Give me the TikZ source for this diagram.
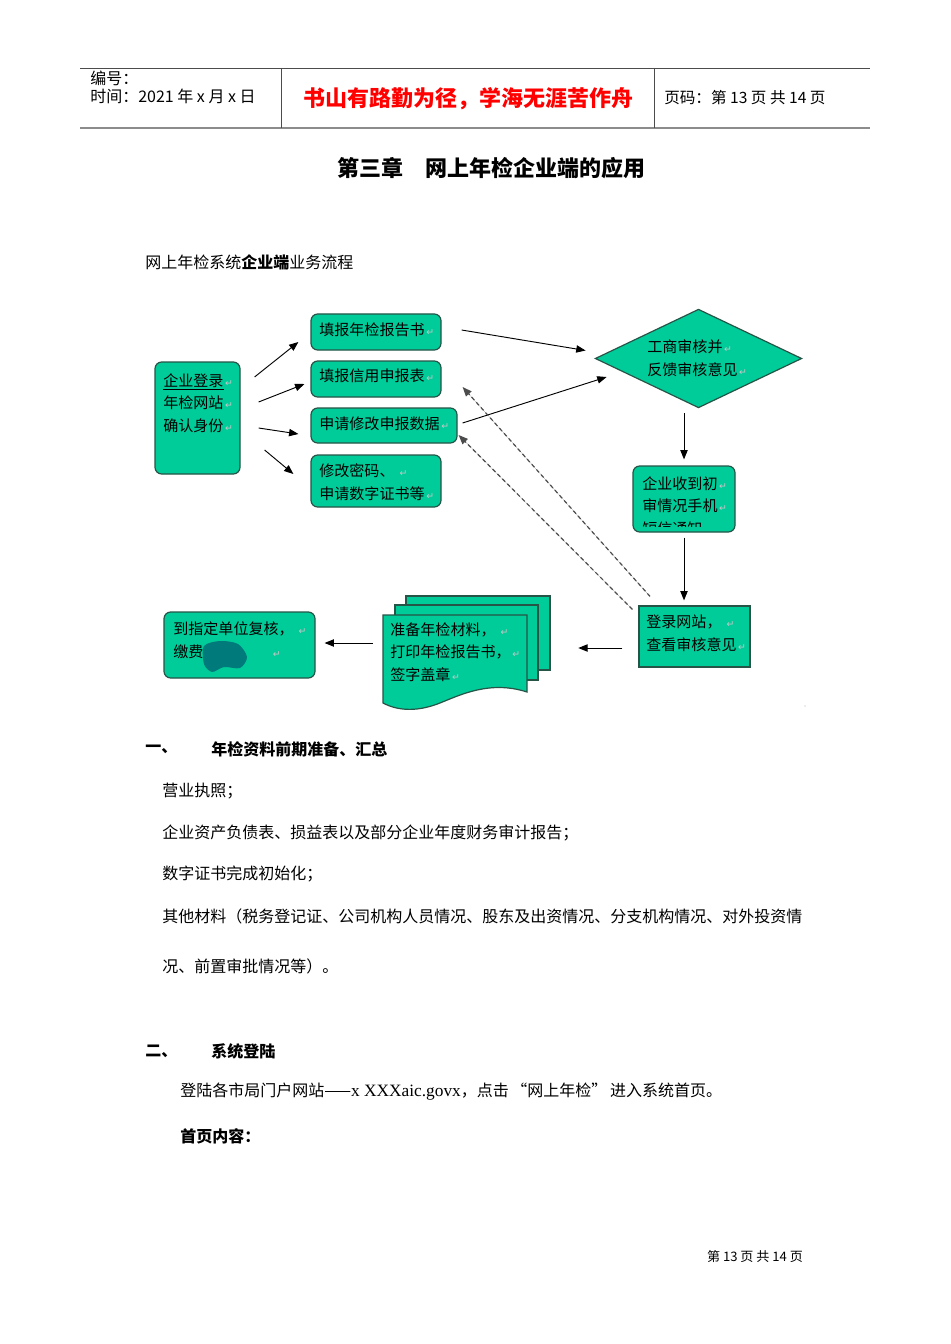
\documentclass[tikz,border=0pt]{standalone}
\usepackage{fontspec}
\setmainfont{Noto Sans CJK SC}
\newfontfamily\latinserif{Liberation Serif}
\newfontfamily\symfont{DejaVu Sans}
\usetikzlibrary{arrows.meta,calc,fit,shapes.geometric}
\definecolor{boxfill}{RGB}{0,204,153}
\definecolor{boxline}{RGB}{38,84,70}
\definecolor{blobteal}{RGB}{0,122,122}
\newcommand\pmark{{\symfont\color{gray!45}\fontsize{7}{7}\selectfont\,↵}}
\begin{document}
\begin{tikzpicture}[x=0.75pt,y=-0.75pt,
    box/.style={draw=boxline,line width=0.9pt,fill=boxfill,rounded corners=5pt,inner sep=0pt},
    sharpbox/.style={box,rounded corners=0pt},
    docpage/.style={draw=boxline,line width=0.9pt,fill=boxfill},
    flowtxt/.style={anchor=west,align=left,inner sep=0pt,font=\fontsize{11.3}{17}\selectfont},
    bodytxt/.style={anchor=west,inner sep=0pt,font=\fontsize{12}{14}\selectfont},
    headtxt/.style={anchor=west,inner sep=0pt,font=\fontsize{12}{14}\selectfont\bfseries},
    arr/.style={-{Triangle[length=7pt,width=5.5pt]},line width=0.7pt},
    dasharr/.style={arr,line width=0.9pt,dash pattern=on 3pt off 2.2pt,draw=black!70,fill=black!80}]

    \useasboundingbox (0,0) rectangle (950,1344);
    \fill[white] (0,0) rectangle (950,1344);

    % page header
    \draw[black!70,line width=0.6pt] (80,68) -- (870,68);
    \draw[black!45,line width=1.6pt] (80,128) -- (870,128);
    \draw[black!70,line width=0.6pt] (281,68) -- (281,128) (654,68) -- (654,128);
    \node[anchor=west,inner sep=0pt,font=\fontsize{12}{14}\selectfont] (code) at (90,78) {编号：};
    \node[anchor=west,inner sep=0pt,font=\fontsize{12}{14}\selectfont] (date) at (90,96) {时间：2021 年 x 月 x 日};
    \node[font=\fontsize{16.5}{20}\selectfont\bfseries,text=red] (motto) at (468,99) {书山有路勤为径，学海无涯苦作舟};
    \node[anchor=west,inner sep=0pt,font=\fontsize{11.7}{14}\selectfont] (pageno) at (664,98) {页码：第 13 页 共 14 页};

    \node[font=\fontsize{16.5}{20}\selectfont\bfseries] (title) at (491.5,168) {第三章　网上年检企业端的应用};
    \node[bodytxt] (caption) at (145,262) {网上年检系统\textbf{企业端}业务流程};

    % flow chart
    \node[box,fit={(155,362) (240,474)}] (login) {};
    \node[box,fit={(311,314) (441,350)}] (report) {};
    \node[box,fit={(311,361) (441,397)}] (credit) {};
    \node[box,fit={(311,408) (457,443)}] (modify) {};
    \node[box,fit={(311,455) (441,507)}] (cert) {};
    \node[diamond,draw=boxline,fill=boxfill,line width=0.9pt,inner sep=0pt,
          minimum width=155pt,minimum height=74pt] (review) at (698.5,358.5) {};
    \node[box,fit={(633,466) (735,532)}] (sms) {};
    \node[sharpbox,fit={(639,606) (750,667)}] (check) {};
    \node[box,fit={(164,612) (315,678)}] (pay) {};

    \draw[docpage] (406,596) rectangle (550,670);
    \draw[docpage] (395,605) rectangle (538,680);
    \draw[docpage] (383,615) -- (527,615) -- (527,692)
        .. controls (490,680) and (460,695) .. (440,703)
        .. controls (420,711) and (400,712) .. (383,703) -- cycle;
    \node[inner sep=0pt,fit={(383,615) (527,703)}] (docs) {};

    \node[flowtxt] (logintxt) at (163,403) {\underline{企业登录}\pmark\\年检网站\pmark\\确认身份\pmark};
    \node[flowtxt] (reporttxt) at (319,330) {填报年检报告书\pmark};
    \node[flowtxt] (credittxt) at (319,376) {填报信用申报表\pmark};
    \node[flowtxt] (modifytxt) at (319,424) {申请修改申报数据\pmark};
    \node[flowtxt] (certtxt) at (319,482.5) {修改密码、\ \pmark\\申请数字证书等\pmark};
    \node[flowtxt] (reviewtxt) at (647,358) {工商审核并\pmark\\反馈审核意见\pmark};
    \begin{scope}
        \clip (634,467) rectangle (734,526);
        \node[flowtxt] (smstxt) at (642,506) {企业收到初\pmark\\审情况手机\pmark\\短信通知};
    \end{scope}
    \node[flowtxt] (checktxt) at (646,633) {登录网站，\ \pmark\\查看审核意见\pmark};
    \node[flowtxt] (docstxt) at (390,652) {准备年检材料，\ \pmark\\打印年检报告书，\pmark\\签字盖章\pmark};
    \node[flowtxt] (paytxt) at (173,640) {到指定单位复核，\ \pmark\\缴费\hspace{4.5em}\pmark};
    \fill[blobteal] plot[smooth cycle] coordinates {(204,646) (220,641) (238,644) (247,657) (240,668) (224,667) (212,672) (204,664)};

    \draw[arr] ($(login.east)+(14,-41)$) -- ($(report.west)+(-12,10)$);
    \draw[arr] ($(login.east)+(18,-16)$) -- ($(credit.west)+(-6,5)$);
    \draw[arr] ($(login.east)+(18,10)$) -- ($(modify.west)+(-12,8.5)$);
    \draw[arr] ($(login.east)+(24,32)$) -- ($(cert.west)+(-17,-7)$);
    \draw[arr] ($(report.east)+(20,-2)$) -- ($(review.west)+(-9,-8)$);
    \draw[arr] ($(modify.east)+(5,-2.5)$) -- ($(review.west)+(12,18.5)$);
    \draw[arr] ($(review.south -| sms.north)+(0,5)$) -- ($(sms.north)+(0,-6)$);
    \draw[arr] ($(sms.south)+(0,5)$) -- ($(sms.south |- check.north)+(0,-5)$);
    \draw[arr] ($(check.west)+(-16,11.5)$) -- ($(docs.east)+(51,-11)$);
    \draw[arr] ($(docs.west)+(-10,-16)$) -- ($(pay.east)+(9,-2)$);
    \draw[dasharr] ($(check.north)+(-44.5,-9)$) -- ($(credit.east)+(21,8)$);
    \draw[dasharr] ($(check.north west)+(-6,4)$) -- ($(modify.east)+(1,9.5)$);
    \fill[gray!60] (805,706) circle (0.4pt);

    % sections
    \node[headtxt] (secAnum) at (145,749) {一、};
    \node[headtxt] (secA) at (211,749) {年检资料前期准备、汇总};
    \node[bodytxt] (itemA) at (162,791) {营业执照；};
    \node[bodytxt] (itemB) at (162,833) {企业资产负债表、损益表以及部分企业年度财务审计报告；};
    \node[bodytxt] (itemC) at (162,874) {数字证书完成初始化；};
    \node[bodytxt] (itemD) at (162,916) {其他材料（税务登记证、公司机构人员情况、股东及出资情况、分支机构情况、对外投资情};
    \node[bodytxt] (itemDb) at (162,966) {况、前置审批情况等）。};
    \node[headtxt] (secBnum) at (145,1051) {二、};
    \node[headtxt] (secB) at (211,1051) {系统登陆};
    \node[bodytxt] (portal) at (180,1092) {登陆各市局门户网站——{\latinserif\fontsize{13}{14}\selectfont x XXXaic.govx}，点击\,“网上年检”\,进入系统首页。};
    \node[headtxt] (home) at (180,1136) {首页内容：};

    \node[font=\fontsize{9.8}{12}\selectfont] (footer) at (755,1257) {第 13 页 共 14 页};
\end{tikzpicture}
\end{document}
